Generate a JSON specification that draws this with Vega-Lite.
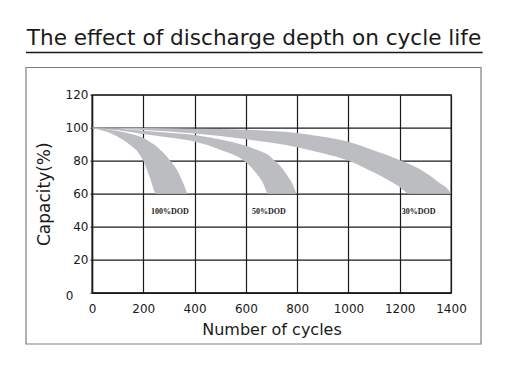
{
  "$schema": "https://vega.github.io/schema/vega-lite/v6.json",
  "width": 359,
  "height": 198,
  "autosize": {"type": "none"},
  "padding": {"left": 92, "top": 94.7, "right": 55, "bottom": 81.3},
  "background": "white",
  "title": {
    "text": "The effect of discharge depth on cycle life",
    "font": "DejaVu Sans",
    "fontSize": 21.6,
    "fontWeight": "normal",
    "color": "#1a1a1a",
    "anchor": "middle",
    "frame": "group",
    "baseline": "alphabetic",
    "offset": -15,
    "dx": -17.5
  },
  "config": {
    "font": "DejaVu Sans",
    "view": {"stroke": "#777777", "strokeWidth": 1.5},
    "axis": {
      "labelFont": "DejaVu Sans",
      "labelFontSize": 12,
      "labelColor": "#1a1a1a",
      "titleFont": "DejaVu Sans",
      "titleFontWeight": "normal",
      "titleColor": "#1a1a1a",
      "grid": true,
      "gridColor": "#1a1a1a",
      "gridWidth": 1.2,
      "gridOpacity": 1,
      "domainColor": "#1a1a1a",
      "domainWidth": 1.5,
      "tickColor": "#1a1a1a"
    }
  },
  "datasets": {
    "bands": [
      {"dod": "100%", "cycles": 0, "hi": 100, "lo": 99.6},
      {"dod": "100%", "cycles": 50, "hi": 99.2, "lo": 97.8},
      {"dod": "100%", "cycles": 100, "hi": 98, "lo": 94.5},
      {"dod": "100%", "cycles": 150, "hi": 96.3, "lo": 89.3},
      {"dod": "100%", "cycles": 180, "hi": 95, "lo": 85},
      {"dod": "100%", "cycles": 200, "hi": 93.8, "lo": 80},
      {"dod": "100%", "cycles": 225, "hi": 91.5, "lo": 70},
      {"dod": "100%", "cycles": 251, "hi": 88.8, "lo": 60},
      {"dod": "100%", "cycles": 270, "hi": 86, "lo": 60},
      {"dod": "100%", "cycles": 290, "hi": 82.8, "lo": 60},
      {"dod": "100%", "cycles": 316, "hi": 77.8, "lo": 60},
      {"dod": "100%", "cycles": 335, "hi": 73.5, "lo": 60},
      {"dod": "100%", "cycles": 348, "hi": 69, "lo": 60},
      {"dod": "100%", "cycles": 360, "hi": 64.8, "lo": 60},
      {"dod": "100%", "cycles": 371, "hi": 60, "lo": 60},
      {"dod": "50%", "cycles": 0, "hi": 100, "lo": 99.7},
      {"dod": "50%", "cycles": 100, "hi": 99.3, "lo": 98.4},
      {"dod": "50%", "cycles": 200, "hi": 98.2, "lo": 96.2},
      {"dod": "50%", "cycles": 300, "hi": 97, "lo": 94},
      {"dod": "50%", "cycles": 400, "hi": 95.6, "lo": 91.6},
      {"dod": "50%", "cycles": 500, "hi": 92.8, "lo": 86.6},
      {"dod": "50%", "cycles": 600, "hi": 89, "lo": 79},
      {"dod": "50%", "cycles": 640, "hi": 86.8, "lo": 72.5},
      {"dod": "50%", "cycles": 665, "hi": 85.2, "lo": 67},
      {"dod": "50%", "cycles": 688, "hi": 83.4, "lo": 60},
      {"dod": "50%", "cycles": 707, "hi": 80.8, "lo": 60},
      {"dod": "50%", "cycles": 730, "hi": 77.5, "lo": 60},
      {"dod": "50%", "cycles": 759, "hi": 71.7, "lo": 60},
      {"dod": "50%", "cycles": 780, "hi": 66.5, "lo": 60},
      {"dod": "50%", "cycles": 797, "hi": 60, "lo": 60},
      {"dod": "30%", "cycles": 0, "hi": 100, "lo": 99.8},
      {"dod": "30%", "cycles": 200, "hi": 99.8, "lo": 98.6},
      {"dod": "30%", "cycles": 400, "hi": 99.4, "lo": 96.5},
      {"dod": "30%", "cycles": 600, "hi": 98.8, "lo": 93},
      {"dod": "30%", "cycles": 800, "hi": 96.8, "lo": 88.2},
      {"dod": "30%", "cycles": 900, "hi": 94.5, "lo": 84.5},
      {"dod": "30%", "cycles": 1000, "hi": 91.5, "lo": 80},
      {"dod": "30%", "cycles": 1100, "hi": 86.2, "lo": 72.8},
      {"dod": "30%", "cycles": 1150, "hi": 83.4, "lo": 68.8},
      {"dod": "30%", "cycles": 1194, "hi": 80.7, "lo": 64.7},
      {"dod": "30%", "cycles": 1240, "hi": 77.8, "lo": 60},
      {"dod": "30%", "cycles": 1311, "hi": 71.7, "lo": 60},
      {"dod": "30%", "cycles": 1363, "hi": 65.7, "lo": 60},
      {"dod": "30%", "cycles": 1385, "hi": 63.2, "lo": 60},
      {"dod": "30%", "cycles": 1400, "hi": 60, "lo": 60}
    ],
    "labels": [
      {"label": "100%DOD", "cycles": 304, "capacity": 49},
      {"label": "50%DOD", "cycles": 690, "capacity": 49},
      {"label": "30%DOD", "cycles": 1274, "capacity": 49}
    ]
  },
  "layer": [
    {
      "data": {"values": [{}]},
      "mark": {"type": "rect", "fill": "transparent", "stroke": "#808080", "strokeWidth": 1.2, "clip": false},
      "encoding": {
        "x": {"datum": -257.4, "type": "quantitative", "title": "Number of cycles", "scale": {"domain": [0, 1400], "nice": false, "zero": false},
          "axis": {"values": [0, 200, 400, 600, 800, 1000, 1200, 1400], "format": "d", "title": "Number of cycles", "titleFontSize": 16, "titlePadding": 7, "ticks": false, "labelPadding": 11, "labelFlush": false}},
        "x2": {"datum": 1517},
        "y": {"datum": 136.5, "type": "quantitative", "title": "Capacity(%)", "scale": {"domain": [0, 120], "nice": false, "zero": false},
          "axis": {"values": [0, 20, 40, 60, 80, 100, 120], "format": "d", "title": "Capacity(%)", "titleFontSize": 17, "titlePadding": 12, "tickSize": 2,
            "labelPadding": {"condition": {"test": "datum.value === 0", "value": 17}, "value": 2},
            "labelOffset": {"condition": {"test": "datum.value === 0", "value": 3}, "value": 0}, "labelFlush": false}},
        "y2": {"datum": -31.1}
      }
    },
    {
      "data": {"values": [{}]},
      "mark": {"type": "rule", "stroke": "#1a1a1a", "strokeWidth": 1.5, "clip": false},
      "encoding": {
        "x": {"datum": -257.4, "type": "quantitative", "title": "Number of cycles", "scale": {"domain": [0, 1400], "nice": false, "zero": false},
          "axis": {"values": [0, 200, 400, 600, 800, 1000, 1200, 1400], "format": "d", "title": "Number of cycles", "titleFontSize": 16, "titlePadding": 7, "ticks": false, "labelPadding": 11, "labelFlush": false}},
        "x2": {"datum": 1523.6},
        "y": {"datum": 145.5, "type": "quantitative", "title": "Capacity(%)", "scale": {"domain": [0, 120], "nice": false, "zero": false},
          "axis": {"values": [0, 20, 40, 60, 80, 100, 120], "format": "d", "title": "Capacity(%)", "titleFontSize": 17, "titlePadding": 12, "tickSize": 2,
            "labelPadding": {"condition": {"test": "datum.value === 0", "value": 17}, "value": 2},
            "labelOffset": {"condition": {"test": "datum.value === 0", "value": 3}, "value": 0}, "labelFlush": false}}
      }
    },
    {
      "data": {"name": "bands"},
      "mark": {"type": "area", "interpolate": "monotone", "color": "#bcbdc0", "opacity": 1},
      "encoding": {
        "detail": {"field": "dod", "type": "nominal"},
        "x": {"field": "cycles", "type": "quantitative", "title": "Number of cycles", "scale": {"domain": [0, 1400], "nice": false, "zero": false},
          "axis": {"values": [0, 200, 400, 600, 800, 1000, 1200, 1400], "format": "d", "title": "Number of cycles", "titleFontSize": 16, "titlePadding": 7, "ticks": false, "labelPadding": 11, "labelFlush": false}},
        "y": {"field": "hi", "type": "quantitative", "title": "Capacity(%)", "scale": {"domain": [0, 120], "nice": false, "zero": false},
          "axis": {"values": [0, 20, 40, 60, 80, 100, 120], "format": "d", "title": "Capacity(%)", "titleFontSize": 17, "titlePadding": 12, "tickSize": 2,
            "labelPadding": {"condition": {"test": "datum.value === 0", "value": 17}, "value": 2},
            "labelOffset": {"condition": {"test": "datum.value === 0", "value": 3}, "value": 0}, "labelFlush": false}},
        "y2": {"field": "lo"}
      }
    },
    {
      "data": {"name": "labels"},
      "mark": {"type": "text", "font": "Liberation Serif", "fontWeight": "bold", "fontSize": 8, "color": "#222222", "align": "center", "baseline": "middle"},
      "encoding": {
        "x": {"field": "cycles", "type": "quantitative", "title": "Number of cycles", "scale": {"domain": [0, 1400], "nice": false, "zero": false},
          "axis": {"values": [0, 200, 400, 600, 800, 1000, 1200, 1400], "format": "d", "title": "Number of cycles", "titleFontSize": 16, "titlePadding": 7, "ticks": false, "labelPadding": 11, "labelFlush": false}},
        "y": {"field": "capacity", "type": "quantitative", "title": "Capacity(%)", "scale": {"domain": [0, 120], "nice": false, "zero": false},
          "axis": {"values": [0, 20, 40, 60, 80, 100, 120], "format": "d", "title": "Capacity(%)", "titleFontSize": 17, "titlePadding": 12, "tickSize": 2,
            "labelPadding": {"condition": {"test": "datum.value === 0", "value": 17}, "value": 2},
            "labelOffset": {"condition": {"test": "datum.value === 0", "value": 3}, "value": 0}, "labelFlush": false}},
        "text": {"field": "label"}
      }
    }
  ]
}
